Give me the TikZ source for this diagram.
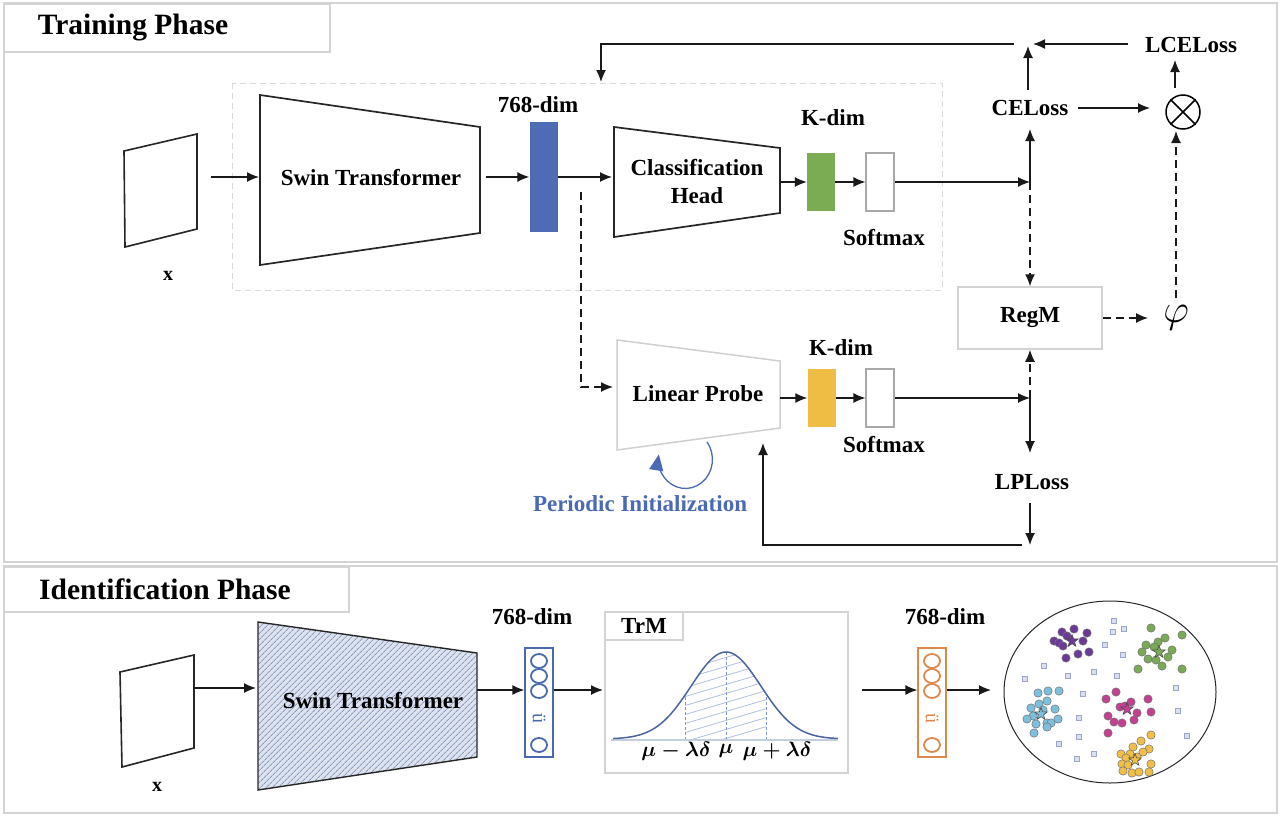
\documentclass[tikz,border=0pt]{standalone}
\usepackage{fontspec}
\usepackage{amsmath}
\setmainfont{Liberation Serif}
\usetikzlibrary{arrows.meta,patterns.meta,shapes.geometric}
\definecolor{barblue}{HTML}{4E6CB4}
\definecolor{kgreen}{HTML}{7BAC53}
\definecolor{kyellow}{HTML}{F0BD44}
\definecolor{vblue}{HTML}{4A6AAF}
\definecolor{vorange}{HTML}{E0874C}
\definecolor{piblue}{HTML}{4A6AB5}
\definecolor{frameg}{HTML}{D3D3D3}
\definecolor{dashg}{HTML}{D9D9D9}
\definecolor{lpgray}{HTML}{CFCFCF}
\definecolor{boxg}{HTML}{A8A8A8}
\definecolor{hatchbg}{HTML}{DCE3EE}
\definecolor{hatchln}{HTML}{8A9CC0}
\definecolor{gcurve}{HTML}{4A64A0}
\definecolor{gbase}{HTML}{C3CFE0}
\definecolor{ghatch}{HTML}{AFC0DC}
\definecolor{gdash}{HTML}{7F96C8}
\definecolor{cpurple}{HTML}{6B3A97}
\definecolor{cgreen}{HTML}{7BAA57}
\definecolor{ccyan}{HTML}{7CC0DE}
\definecolor{cmag}{HTML}{C2408F}
\definecolor{cyel}{HTML}{F1BF47}
\definecolor{csq}{HTML}{9AA6CF}
\begin{document}
\begin{tikzpicture}[x=1pt,y=-1pt,
  lbl/.style={font=\fontsize{23}{28}\selectfont\bfseries, inner sep=0pt},
  ttl/.style={font=\fontsize{29.5}{32}\selectfont\bfseries, inner sep=0pt},
  arr/.style={-{Latex[length=12pt,width=10pt]}, line width=1.3pt, black!90},
  darr/.style={arr, dash pattern=on 8pt off 5pt},
  trap/.style={line width=1.7pt, black!85, line join=miter},
  bar/.style={draw=none, minimum width=28pt, minimum height=#1, inner sep=0pt},
  smbox/.style={draw=boxg, line width=1.2pt, fill=white, minimum width=28pt, minimum height=58pt, inner sep=0pt},
  frm/.style={draw=frameg, line width=1.5pt},
  dot/.style={draw=black!55, line width=0.5pt},
  cstar/.style={star, star points=5, star point ratio=2.4, draw=black!70, line width=0.6pt, minimum size=13pt, inner sep=0pt},
]
\useasboundingbox (0,0) rectangle (1281,817);

% ---------------- frames
\draw[frm] (4,3) rectangle (1277,562);
\draw[frm] (4,566) rectangle (1277,813);
\draw[frm, fill=white] (4,4) rectangle (330,52);
\node[ttl] (tph) at (133,28) {Training Phase};
\draw[frm, fill=white] (4,567) rectangle (349,612);
\node[ttl] (iph) at (165,589) {Identification Phase};

% ---------------- training phase
\draw[dashg, line width=1pt, dash pattern=on 6pt off 4pt] (232,83) rectangle (942,290);

\draw[line width=1.6pt, black!85] (124,151) -- (197,134) -- (197,229) -- (125,247) -- cycle;
\node[lbl, font=\fontsize{20}{22}\selectfont\bfseries] (x1) at (168,276) {x};
\coordinate (img1e) at (211,177);

\draw[trap] (260,95) -- (480,127) -- (480,233) -- (260,265) -- cycle;
\node[lbl] (sw1) at (371,178) {Swin Transformer};
\coordinate (sw1w) at (259,177);
\coordinate (sw1e) at (486,177);
\draw[arr] (img1e) -- (sw1w);

\node[bar=110pt, fill=barblue] (b1) at (543.5,177) {};
\node[lbl] (d1) at (538,105) {768-dim};
\draw[arr] (sw1e) -- (b1.west);
\coordinate (chw) at (612,177);
\draw[arr] (b1.east) -- (chw);

\draw[trap] (614,127) -- (780,148) -- (780,213) -- (614,237) -- cycle;
\node[lbl, align=center] (ch) at (697,182) {Classification\\Head};
\coordinate (che) at (780,182);
\node[bar=58pt, fill=kgreen] (g1) at (821,182) {};
\node[lbl] (kd1) at (833,118) {K-dim};
\draw[arr] (che) -- (g1.west);
\node[smbox] (s1) at (880,182) {};
\node[lbl] (sm1) at (884,238) {Softmax};
\draw[arr] (g1.east) -- (s1.west);
\coordinate (j1) at (1030,182);
\draw[arr] (s1.east) -- (j1);

\node[lbl] (ce) at (1030,108) {CELoss};
\coordinate (ces) at (1030,129);
\draw[arr] (j1) -- (ces);

\node[draw=frameg, line width=1.5pt, minimum width=144pt, minimum height=62pt, inner sep=0pt,
      font=\fontsize{23}{28}\selectfont\bfseries] (reg) at (1030,318) {RegM};
\draw[darr] (j1) -- (reg.north);

\coordinate (cen) at (1028,90);
\coordinate (k0) at (1028,46);
\draw[arr] (cen) -- (k0);
\node[lbl] (lce) at (1191,45) {LCELoss};
\coordinate (lcew) at (1128,44);
\coordinate (k1) at (1033,44);
\draw[arr] (lcew) -- (k1);
\coordinate (k2) at (1014,44);
\coordinate (fb) at (601,82);
\draw[arr] (k2) -| (fb);

\node[circle, draw, line width=1.5pt, minimum size=34pt, inner sep=0pt] (ot) at (1183,112) {};
\draw[line width=1.5pt] (ot.north west) -- (ot.south east);
\draw[line width=1.5pt] (ot.north east) -- (ot.south west);
\coordinate (cee) at (1078,108);
\coordinate (otw) at (1150,108);
\draw[arr] (cee) -- (otw);
\coordinate (otn) at (1175,88);
\coordinate (lces) at (1175,60);
\draw[arr] (otn) -- (lces);

\node[inner sep=0pt, scale=1.6, font=\fontsize{24.88}{26}\selectfont] (phi) at (1176,318) {$\varphi$};
\coordinate (phin) at (1176,298);
\coordinate (ots) at (1176,131);
\draw[darr] (phin) -- (ots);
\coordinate (phiw) at (1148,318);
\draw[darr] (reg.east) -- (phiw);

% linear probe branch
\draw[line width=1.5pt, lpgray] (617,340) -- (780,361) -- (780,428) -- (617,450) -- cycle;
\node[lbl] (lp) at (698,394) {Linear Probe};
\coordinate (c1) at (581,192);
\coordinate (lpw) at (613,387);
\draw[darr] (c1) |- (lpw);
\coordinate (lpe) at (780,398);
\node[bar=58pt, fill=kyellow] (y1) at (821.5,398) {};
\node[lbl] (kd2) at (841,348) {K-dim};
\draw[arr] (lpe) -- (y1.west);
\node[smbox] (s2) at (880,398) {};
\node[lbl] (sm2) at (884,445) {Softmax};
\draw[arr] (y1.east) -- (s2.west);
\coordinate (j2) at (1030,398);
\draw[arr] (s2.east) -- (j2);
\draw[darr] (j2) -- (reg.south);
\node[lbl] (lpl) at (1032,482) {LPLoss};
\coordinate (lpn) at (1030,453);
\draw[arr] (j2) -- (lpn);
\coordinate (lps) at (1030,503);
\coordinate (j3) at (1030,545);
\draw[arr] (lps) -- (j3);
\coordinate (j3b) at (1022,545);
\coordinate (lpb) at (763,443);
\draw[arr] (j3b) -| (lpb);

\coordinate (pa) at (707,442);
\draw[piblue, line width=1.3pt, -{Triangle[length=16pt,width=14pt]}] (pa) arc[start angle=-37, end angle=190, x radius=27, y radius=29];
\node[lbl, text=piblue] (pi) at (640,504) {Periodic Initialization};

% ---------------- identification phase
\draw[line width=1.6pt, black!85] (120,672) -- (194,655) -- (194,748) -- (122,767) -- cycle;
\node[lbl, font=\fontsize{20}{22}\selectfont\bfseries] (x2) at (157,787) {x};
\coordinate (img2e) at (194,688);
\coordinate (sw2w) at (256,688);
\draw[arr] (img2e) -- (sw2w);

\path[preaction={fill=hatchbg}, pattern={Lines[angle=45, distance=4pt, line width=0.9pt]}, pattern color=hatchln]
  (258,622) -- (477,653) -- (477,757) -- (258,790) -- cycle;
\draw[trap, line width=1.4pt] (258,622) -- (477,653) -- (477,757) -- (258,790) -- cycle;
\node[lbl] (sw2) at (373,701) {Swin Transformer};
\coordinate (sw2e) at (477,690);

\node[draw=vblue, line width=1.3pt, minimum width=28pt, minimum height=109pt, inner sep=0pt] (v1) at (539,702.5) {};
\foreach \yy in {661,676,691,745} \draw[vblue, line width=1.8pt] (539,\yy) ellipse [x radius=8, y radius=7];
\node[text=vblue, rotate=-90, inner sep=0pt, font=\fontsize{20}{20}\selectfont] (vd1) at (539,718) {ü};
\node[lbl] (d2) at (532,617) {768-dim};
\draw[arr] (sw2e) -- (sw2e -| v1.west);

\draw[frm] (605,612) rectangle (848,773);
\draw[frm] (605,612) rectangle (683,640);
\node[lbl] (trm) at (644,626) {TrM};
\coordinate (trmw) at (603,690);
\draw[arr] (v1.east |- trmw) -- (trmw);

\begin{scope}
\clip (685,740) -- plot[domain=685:766, samples=40] (\x, {739-87*exp(-((\x-726)*(\x-726))/2450)}) -- (766,740) -- cycle;
\foreach \k in {0,...,14} \draw[ghatch, line width=0.8pt] (680,{752-\k*9}) -- (775,{724-\k*9});
\end{scope}
\draw[gdash, line width=0.9pt, dash pattern=on 3pt off 2pt] (685,740) -- (685,695.2);
\draw[gdash, line width=0.9pt, dash pattern=on 3pt off 2pt] (766,740) -- (766,695.2);
\draw[gdash, line width=0.9pt, dash pattern=on 3pt off 2pt] (726,740) -- (726,652);
\draw[gbase, line width=2pt] (611,740) -- (838,740);
\draw[gcurve, line width=1.5pt] plot[domain=613:838, samples=120, smooth] (\x, {739-87*exp(-((\x-726)*(\x-726))/2450)});
\node[inner sep=0pt, font=\fontsize{21}{21}\selectfont] (m1) at (676,751) {$\boldsymbol{\mu-\lambda\delta}$};
\node[inner sep=0pt, font=\fontsize{21}{21}\selectfont] (m2) at (726,751) {$\boldsymbol{\mu}$};
\node[inner sep=0pt, font=\fontsize{21}{21}\selectfont] (m3) at (777,751) {$\boldsymbol{\mu+\lambda\delta}$};

\coordinate (trme) at (862,690);
\node[draw=vorange, line width=1.3pt, minimum width=28pt, minimum height=109pt, inner sep=0pt] (v2) at (932,702.5) {};
\foreach \yy in {661,676,691,745} \draw[vorange, line width=1.8pt] (932,\yy) ellipse [x radius=8, y radius=7];
\node[text=vorange, rotate=-90, inner sep=0pt, font=\fontsize{20}{20}\selectfont] (vd2) at (932,718) {ü};
\node[lbl] (d3) at (945,617) {768-dim};
\draw[arr] (trme) -- (trme -| v2.west);

\draw[black!85, line width=1pt] (1110,692) ellipse [x radius=106, y radius=91];
\coordinate (ellw) at (991,690);
\draw[arr] (v2.east |- ellw) -- (ellw);

% scattered squares
\foreach \x/\y in {1114/621,1113/632,1124/629,1105/645,1123/655,1044/666,1025/679,1068/676,1094/672,1117/676,1176/688,1083/694,1178/711,1079/718,1079/737,1187/736,1059/744,1094/754,1077/759}
  \draw[csq, line width=0.6pt, fill=csq!35] (\x-2.5,\y-2.5) rectangle ++(5,5);

% clusters
\foreach \x/\y in {1062/632,1074/629,1087/633,1067/636,1054/641,1059/643,1063/646,1083/641,1066/658,1078/654,1089/652}
  \filldraw[dot, fill=cpurple] (\x,\y) circle (4.2);
\node[cstar, fill=cpurple] (st1) at (1072,641) {};
\foreach \x/\y in {1151/628,1182/635,1165/638,1158/642,1146/645,1154/647,1142/652,1172/650,1148/659,1156/660,1168/657,1162/666,1138/669,1182/669}
  \filldraw[dot, fill=cgreen] (\x,\y) circle (4.2);
\node[cstar, fill=cgreen] (st2) at (1159,652) {};
\foreach \x/\y in {1038/693,1048/691,1059/691,1047/701,1039/704,1031/708,1043/710,1055/709,1033/716,1027/719,1036/724,1047/723,1051/723,1058/719,1047/727,1034/733}
  \filldraw[dot, fill=ccyan] (\x,\y) circle (4.2);
\node[cstar, fill=ccyan] (st3) at (1041,714) {};
\foreach \x/\y in {1116/692,1106/699,1148/699,1131/702,1120/707,1125/706,1137/713,1151/712,1108/716,1134/720,1114/722,1122/723,1108/733}
  \filldraw[dot, fill=cmag] (\x,\y) circle (4.2);
\node[cstar, fill=cmag] (st4) at (1127,709) {};
\foreach \x/\y in {1151/735,1141/741,1133/747,1149/749,1143/752,1121/754,1130/754,1126/758,1137/757,1122/764,1128/765,1151/764,1123/771,1132/773,1139/772,1149/772}
  \filldraw[dot, fill=cyel] (\x,\y) circle (4.2);
\node[cstar, fill=cyel] (st5) at (1135,760) {};
\end{tikzpicture}
\end{document}
